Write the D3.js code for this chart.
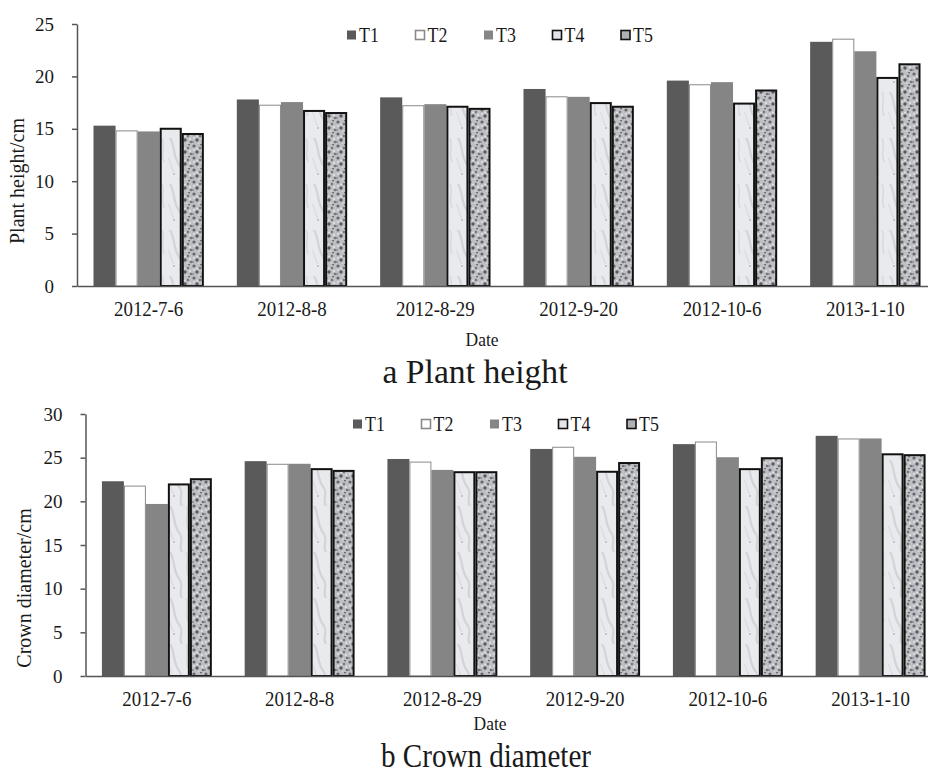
<!DOCTYPE html>
<html>
<head>
<meta charset="utf-8">
<script src="https://cdn.jsdelivr.net/npm/d3@7"></script>
<style>
  html, body { margin: 0; padding: 0; background: #fff; }
  svg { display: block; }
  text { font-family: "Liberation Serif", "Times New Roman", serif; fill: #1a1a1a; }
</style>
</head>
<body>
<svg id="chart" width="928" height="773"></svg>
<script>
// ---------- data ----------
const dates = ["2012-7-6", "2012-8-8", "2012-8-29", "2012-9-20", "2012-10-6", "2013-1-10"];
const seriesNames = ["T1", "T2", "T3", "T4", "T5"];

const heightT1 = [15.3, 17.8, 18.0, 18.8, 19.6, 23.3];
const heightT2 = [14.85, 17.3, 17.25, 18.1, 19.25, 23.6];
const heightT3 = [14.75, 17.55, 17.35, 18.05, 19.45, 22.4];
const heightT4 = [15.1, 16.8, 17.2, 17.55, 17.5, 19.95];
const heightT5 = [14.6, 16.6, 17.0, 17.2, 18.75, 21.25];

const crownT1 = [22.3, 24.6, 24.85, 26.0, 26.55, 27.5];
const crownT2 = [21.8, 24.3, 24.55, 26.25, 26.85, 27.2];
const crownT3 = [19.7, 24.3, 23.6, 25.1, 25.05, 27.2];
const crownT4 = [22.05, 23.8, 23.45, 23.5, 23.8, 25.5];
const crownT5 = [22.65, 23.6, 23.45, 24.5, 25.05, 25.4];

const heightTicks = [0, 5, 10, 15, 20, 25];
const crownTicks = [0, 5, 10, 15, 20, 25, 30];

const svg = d3.select("#chart");
svg.append("rect").attr("width", 928).attr("height", 773).attr("fill", "#fff");

// ---------- patterns ----------
const defs = svg.append("defs");
// T4: light marble
const p4 = defs.append("pattern").attr("id", "pat4").attr("patternUnits", "userSpaceOnUse")
  .attr("width", 24).attr("height", 46);
p4.append("rect").attr("width", 24).attr("height", 46).attr("fill", "#e9eaed");
p4.append("path").attr("d", "M2,0 C8,10 4,18 12,28 C16,34 10,40 14,46").attr("stroke", "#d3d4d8").attr("stroke-width", 2.2).attr("fill", "none");
p4.append("path").attr("d", "M18,0 C22,8 16,14 20,24").attr("stroke", "#d9dadd").attr("stroke-width", 1.6).attr("fill", "none");
p4.append("circle").attr("cx", 6).attr("cy", 36).attr("r", 1).attr("fill", "#b9bbc0");
p4.append("path").attr("d", "M0,20 C4,24 2,30 6,34").attr("stroke", "#dcdde0").attr("stroke-width", 1.4).attr("fill", "none");

// T5: speckled
const p5 = defs.append("pattern").attr("id", "pat5").attr("patternUnits", "userSpaceOnUse")
  .attr("width", 12).attr("height", 12);
p5.append("rect").attr("width", 12).attr("height", 12).attr("fill", "#bfc0c4");
[[2,2,1.6,"#66676c"],[8,4,1.3,"#76777c"],[5,8,1.7,"#5a5b60"],[11,10,1.2,"#707176"],[1,10,1.0,"#86878c"],
 [9,0.5,1.0,"#6a6b70"],[5,4.5,1.0,"#e2e3e6"],[10,7,1.0,"#e6e7ea"],[2,6,0.9,"#e0e1e4"],[7,11,0.8,"#dadbde"]]
  .forEach(([x, y, r, c]) => p5.append("circle").attr("cx", x).attr("cy", y).attr("r", r).attr("fill", c));

const styles = [
  { fill: "#5a5a5a", stroke: "none", sw: 0 },
  { fill: "#ffffff", stroke: "#8a8a8a", sw: 1 },
  { fill: "#858585", stroke: "none", sw: 0 },
  { fill: "url(#pat4)", stroke: "#111", sw: 2 },
  { fill: "url(#pat5)", stroke: "#111", sw: 2 }
];

function drawPanel(cfg) {
  const g = svg.append("g");
  const x0 = d3.scaleBand().domain(dates).range([cfg.left, cfg.right])
    .paddingInner(0.23).paddingOuter(0.115);
  const x1 = d3.scaleBand().domain(seriesNames).range([0, x0.bandwidth()]);
  const y = d3.scaleLinear().domain([0, cfg.max]).range([cfg.bottom, cfg.top]);

  // bars
  seriesNames.forEach((s, si) => {
    const vals = cfg.series[si];
    const st = styles[si];
    g.append("g").selectAll("rect").data(vals).join("rect")
      .attr("x", (d, i) => x0(dates[i]) + x1(s) + st.sw / 2)
      .attr("y", d => y(d) + st.sw / 2)
      .attr("width", x1.bandwidth() - st.sw)
      .attr("height", d => y(0) - y(d) - st.sw / 2)
      .attr("fill", st.fill)
      .attr("stroke", st.stroke)
      .attr("stroke-width", st.sw);
  });

  // y axis
  const ya = g.append("g").attr("transform", `translate(${cfg.left},0)`)
    .call(d3.axisLeft(y).tickValues(cfg.ticks).tickSize(5).tickPadding(18).tickSizeOuter(0));
  ya.select(".domain").attr("stroke", "#555").attr("stroke-width", 1.5);
  ya.selectAll(".tick line").attr("stroke", "#555").attr("stroke-width", 1.5);
  ya.selectAll("text").style("font-family", "Liberation Serif, serif").style("font-size", "19px").attr("fill", "#1a1a1a");

  // x axis
  const xa = g.append("g").attr("transform", `translate(0,${cfg.bottom})`)
    .call(d3.axisBottom(x0).tickSize(0).tickPadding(15).tickSizeOuter(0));
  xa.select(".domain").attr("stroke", "#555").attr("stroke-width", 1.5);
  xa.selectAll("text").style("font-family", "Liberation Serif, serif").style("font-size", "21px")
    .attr("fill", "#1a1a1a").attr("transform", "scale(0.9,1)");

  // axis titles
  g.append("text").attr("transform", `translate(${cfg.yTitleX},${cfg.yTitleY}) rotate(-90)`)
    .attr("text-anchor", "middle").attr("dominant-baseline", "middle")
    .style("font-size", "20px").text(cfg.yTitle);
  g.append("text").attr("transform", `translate(${cfg.dateX},${cfg.dateY}) scale(0.92,1)`)
    .attr("text-anchor", "middle")
    .style("font-size", "19px").text("Date");
  g.append("text").attr("x", cfg.capX).attr("y", cfg.capY).attr("text-anchor", "middle")
    .style("font-size", "33px").attr("textLength", cfg.capLen).attr("lengthAdjust", "spacingAndGlyphs")
    .text(cfg.caption);

  // legend
  const lg = g.append("g");
  seriesNames.forEach((s, i) => {
    const st = styles[i];
    const mx = cfg.legX + i * 68.5;
    lg.append("rect").attr("x", mx).attr("y", cfg.legY - 4.5).attr("width", 9).attr("height", 9)
      .attr("fill", st.fill === "url(#pat4)" ? "#e4e5e8" : (st.fill === "url(#pat5)" ? "#b0b1b5" : st.fill))
      .attr("stroke", st.stroke === "none" ? "none" : st.stroke)
      .attr("stroke-width", st.sw ? 1.6 : 0);
    lg.append("text").attr("transform", `translate(${mx + 12},${cfg.legY}) scale(0.85,1)`)
      .attr("dominant-baseline", "central")
      .style("font-size", "21px").text(s);
  });
}

drawPanel({
  left: 77, right: 937, top: 24, bottom: 286, max: 25, ticks: heightTicks,
  series: [heightT1, heightT2, heightT3, heightT4, heightT5],
  yTitle: "Plant height/cm", yTitleX: 19, yTitleY: 181,
  dateX: 482, dateY: 346, caption: "a Plant height", capX: 475, capY: 383, capLen: 185,
  legX: 347, legY: 35
});

drawPanel({
  left: 85.5, right: 942, top: 414, bottom: 676, max: 30, ticks: crownTicks,
  series: [crownT1, crownT2, crownT3, crownT4, crownT5],
  yTitle: "Crown diameter/cm", yTitleX: 26, yTitleY: 588,
  dateX: 490, dateY: 730, caption: "b Crown diameter", capX: 486, capY: 767, capLen: 210,
  legX: 353, legY: 424
});
</script>
</body>
</html>
